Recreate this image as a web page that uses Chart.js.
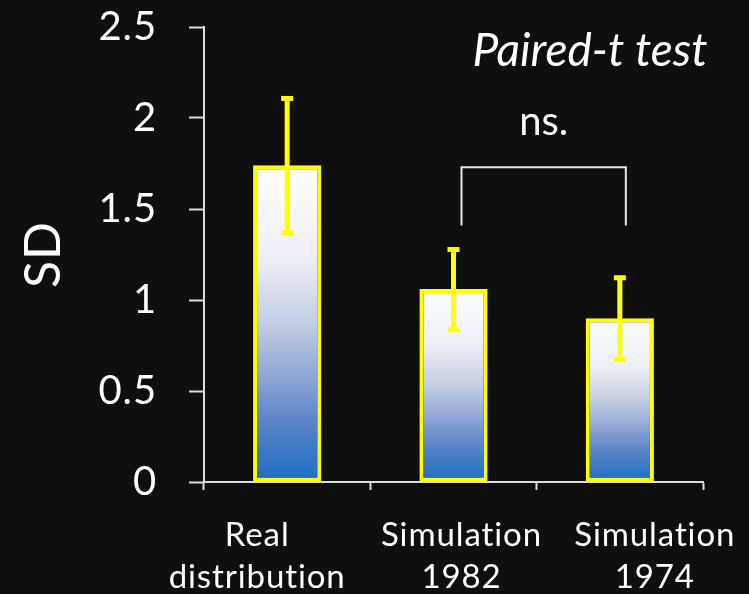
<!DOCTYPE html>
<html>
<head>
<meta charset="utf-8">
<script src="https://cdn.jsdelivr.net/npm/chart.js@4"></script>
<style>
  html, body { margin: 0; padding: 0; background: #0f0f0f; }
  #wrap { width: 749px; height: 594px; }
</style>
</head>
<body>
<div id="wrap"><canvas id="c" width="749" height="594"></canvas></div>
<script>
// Categories (multi-line tick labels)
const categories = [["Real", "distribution"], ["Simulation", "1982"], ["Simulation", "1974"]];
// Mean standard deviation per group
const sdValues = [1.74, 1.06, 0.9];
// Error bar half-widths (symmetric)
const sdErrors = [0.37, 0.22, 0.225];
// Y axis ticks
const yTicks = [0, 0.5, 1, 1.5, 2, 2.5];
// Comparison bracket between the two simulations
const bracketPair = [1, 2];
const bracketTop = 1.73;
const bracketBottom = 1.41;
const bracketLabel = "ns.";
const testLabel = "Paired-t test";

const FONT = "Lato, 'Open Sans', sans-serif";
// horizontal nudge (px) of each category caption from its bar centre
const CAPTION_NUDGE = [-30, 8, 35];

function barGradient(context) {
  const chart = context.chart;
  const y = chart.scales && chart.scales.y;
  if (!y || !chart.chartArea) return '#8aa6d8';
  const top = y.getPixelForValue(context.raw);
  const bottom = y.getPixelForValue(0);
  const g = chart.ctx.createLinearGradient(0, top, 0, bottom);
  g.addColorStop(0, '#ffffff');
  g.addColorStop(0.3, '#eceef5');
  g.addColorStop(0.5, '#c3cde3');
  g.addColorStop(0.65, '#94aad7');
  g.addColorStop(0.8, '#5e86c8');
  g.addColorStop(1, '#1b6dc3');
  return g;
}

// Slight tracking on all canvas text (also keeps "ti" from ligating)
const tracking = {
  id: 'tracking',
  beforeDraw(chart) { chart.ctx.letterSpacing = '0.9px'; }
};

// Shift the category captions sideways after the x scale lays them out
const captionNudge = {
  id: 'captionNudge',
  afterUpdate(chart) {
    const items = chart.scales.x.getLabelItems(chart.chartArea);
    items.forEach((it, i) => { it.options.translation[0] += CAPTION_NUDGE[i] || 0; });
  }
};

const overlay = {
  id: 'overlay',
  afterDatasetsDraw(chart) {
    const ctx = chart.ctx;
    const x = chart.scales.x, y = chart.scales.y;
    ctx.save();
    // error bars
    ctx.fillStyle = '#ffff00';
    sdValues.forEach((v, i) => {
      const cx = x.getPixelForValue(i);
      const yHi = y.getPixelForValue(v + sdErrors[i]);
      const yLo = y.getPixelForValue(v - sdErrors[i]);
      ctx.fillRect(cx - 2.5, yHi, 5, yLo - yHi);
      ctx.fillRect(cx - 6, yHi - 2, 12, 5);
      ctx.fillRect(cx - 6, yLo - 2, 12, 5);
    });
    // significance bracket
    const xa = x.getPixelForValue(bracketPair[0]) + 8;
    const xb = x.getPixelForValue(bracketPair[1]) + 6;
    const yTop = y.getPixelForValue(bracketTop);
    const yBot = y.getPixelForValue(bracketBottom);
    ctx.strokeStyle = '#e8e8e8';
    ctx.lineWidth = 2;
    ctx.beginPath();
    ctx.moveTo(xa, yBot);
    ctx.lineTo(xa, yTop);
    ctx.lineTo(xb, yTop);
    ctx.lineTo(xb, yBot);
    ctx.stroke();
    // labels
    ctx.fillStyle = '#ffffff';
    ctx.textAlign = 'center';
    ctx.textBaseline = 'alphabetic';
    ctx.letterSpacing = '0px';
    ctx.font = `40px ${FONT}`;
    ctx.fillText(bracketLabel, (xa + xb) / 2, 135);
    ctx.font = `italic 46px ${FONT}`;
    ctx.fillText(testLabel, 590, 66);
    ctx.restore();
  }
};

new Chart(document.getElementById('c'), {
  type: 'bar',
  data: {
    labels: categories,
    datasets: [{
      data: sdValues,
      backgroundColor: barGradient,
      borderColor: '#ffff00',
      borderWidth: 4,
      borderSkipped: false,
      categoryPercentage: 1,
      barPercentage: 0.41
    }]
  },
  options: {
    responsive: false,
    animation: false,
    layout: { padding: { top: 27, right: 46, bottom: 0, left: 0 } },
    plugins: { legend: { display: false }, tooltip: { enabled: false } },
    scales: {
      x: {
        afterFit(scale) { scale.height = 112; scale.paddingLeft = 0; scale.paddingRight = 0; },
        grid: { display: true, drawOnChartArea: false, offset: true, tickLength: 8, tickColor: '#dddddd', tickWidth: 2 },
        border: { color: '#dddddd', width: 2 },
        ticks: { color: '#ffffff', font: { family: FONT, size: 33, lineHeight: 1.27 }, padding: 24, maxRotation: 0, autoSkip: false }
      },
      y: {
        min: 0, max: 2.5,
        afterFit(scale) { scale.width = 204; scale.paddingTop = 0; scale.paddingBottom = 0; },
        afterBuildTicks(scale) { scale.ticks = yTicks.map(v => ({ value: v })); },
        grid: { display: true, drawOnChartArea: false, tickLength: 15, tickColor: '#dddddd', tickWidth: 2 },
        border: { color: '#dddddd', width: 2 },
        ticks: { color: '#ffffff', font: { family: FONT, size: 40, lineHeight: 1 }, padding: 32, callback: v => String(v) },
        title: { display: true, text: 'SD', color: '#ffffff', font: { family: FONT, size: 50 }, padding: { top: 14, bottom: 0 } }
      }
    }
  },
  plugins: [tracking, captionNudge, overlay]
});
</script>
</body>
</html>
